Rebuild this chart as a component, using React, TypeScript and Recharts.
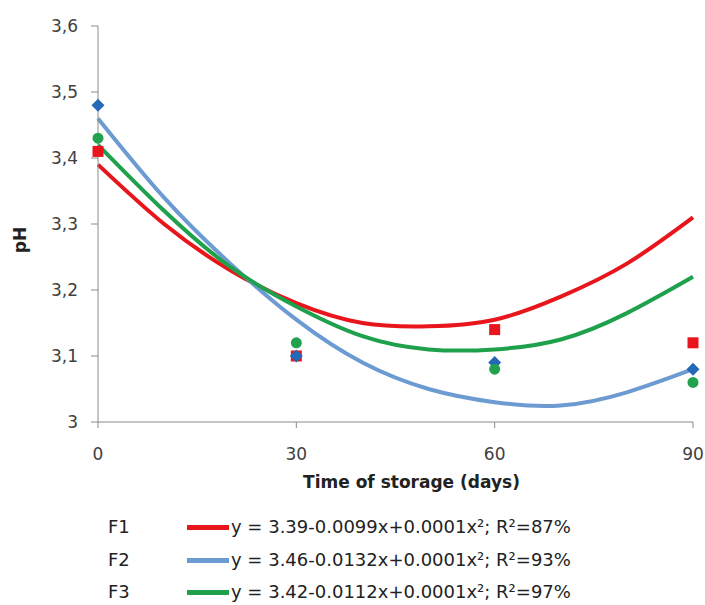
import React from "react";
import { ComposedChart, Line, Scatter, XAxis, YAxis } from "recharts";

// fitted trend curves, every 10 days
const trendDays = [0, 10, 20, 30, 40, 50, 60, 70, 80, 90];
const trendF1 = [3.39, 3.3, 3.23, 3.18, 3.15, 3.145, 3.155, 3.19, 3.24, 3.31];
const trendF2 = [3.46, 3.34, 3.24, 3.155, 3.09, 3.05, 3.03, 3.025, 3.045, 3.08];
const trendF3 = [3.42, 3.32, 3.235, 3.175, 3.13, 3.11, 3.11, 3.125, 3.165, 3.22];

// measured points
const sampleDays = [0, 30, 60, 90];
const obsF1 = [3.41, 3.1, 3.14, 3.12];
const obsF2 = [3.48, 3.1, 3.09, 3.08];
const obsF3 = [3.43, 3.12, 3.08, 3.06];

const xTicks = [0, 30, 60, 90];
const yTicks = [3.0, 3.1, 3.2, 3.3, 3.4, 3.5, 3.6];

const seriesNames = ["F1", "F2", "F3"];
const equations = [
  "y = 3.39-0.0099x+0.0001x²; R²=87%",
  "y = 3.46-0.0132x+0.0001x²; R²=93%",
  "y = 3.42-0.0112x+0.0001x²; R²=97%",
];

const LINE_COLORS = ["#E8161C", "#6C9BD2", "#1FA04C"];
const MARK_COLORS = ["#E8161C", "#2468B8", "#22A24E"];
const AXIS = "#8a8a8a";
const TEXT = "#404040";
const FONT = "'DejaVu Sans', 'Open Sans', sans-serif";

const zip = (xs: number[], ys: number[]) => xs.map((x, i) => ({ x, y: ys[i] }));

const trends = [trendF1, trendF2, trendF3].map((t) => zip(trendDays, t));
const observed = [obsF1, obsF2, obsF3].map((o) => zip(sampleDays, o));

const fmt = (v: number) => String(v).replace(".", ",");

function SquareMark(props: any) {
  const { cx, cy } = props;
  return <rect x={cx - 5.5} y={cy - 5.5} width={11} height={11} fill={MARK_COLORS[0]} />;
}

function DiamondMark(props: any) {
  const { cx, cy } = props;
  const r = 6.5;
  return (
    <polygon
      points={`${cx},${cy - r} ${cx + r},${cy} ${cx},${cy + r} ${cx - r},${cy}`}
      fill={MARK_COLORS[1]}
    />
  );
}

function CircleMark(props: any) {
  const { cx, cy } = props;
  return <circle cx={cx} cy={cy} r={5.5} fill={MARK_COLORS[2]} />;
}

const markShapes = [SquareMark, DiamondMark, CircleMark];
const rowCenters = [527, 560, 592];

export default function App() {
  return (
    <div
      style={{
        position: "absolute",
        left: 0,
        top: 0,
        width: 705,
        height: 605,
        background: "#fff",
        fontFamily: FONT,
        overflow: "hidden",
      }}
    >
      <ComposedChart width={705} height={500} margin={{ top: 26, right: 12, left: 0, bottom: 0 }}>
        <XAxis
          type="number"
          dataKey="x"
          domain={[0, 90]}
          ticks={xTicks}
          allowDuplicatedCategory={false}
          height={78}
          stroke={AXIS}
          tickSize={6}
          tickMargin={20}
          tick={{ fill: TEXT, fontSize: 17, fontFamily: FONT }}
          label={{
            value: "Time of storage (days)",
            position: "insideBottom",
            offset: 12,
            dx: 16,
            style: { fill: "#222", fontSize: 17, fontWeight: 700, fontFamily: FONT },
          }}
        />
        <YAxis
          type="number"
          dataKey="y"
          domain={[3, 3.6]}
          ticks={yTicks}
          width={98}
          stroke={AXIS}
          tickSize={7}
          tickMargin={13}
          tickFormatter={fmt}
          tick={{ fill: TEXT, fontSize: 17, fontFamily: FONT }}
          label={{
            value: "pH",
            angle: -90,
            position: "insideLeft",
            offset: 20,
            dy: 16,
            style: { fill: "#222", fontSize: 17, fontWeight: 700, fontFamily: FONT, textAnchor: "middle" },
          }}
        />
        {trends.map((d, i) => (
          <Line
            key={`trend-${i}`}
            data={d}
            dataKey="y"
            type="natural"
            stroke={LINE_COLORS[i]}
            strokeWidth={4}
            dot={false}
            activeDot={false}
            isAnimationActive={false}
          />
        ))}
        {observed.map((d, i) => (
          <Scatter
            key={`obs-${i}`}
            data={d}
            dataKey="y"
            shape={markShapes[i]}
            isAnimationActive={false}
          />
        ))}
      </ComposedChart>

      {seriesNames.map((name, i) => (
        <div
          key={name}
          style={{
            position: "absolute",
            top: rowCenters[i] - 10,
            left: 0,
            height: 20,
            lineHeight: "20px",
            fontSize: 18,
            color: "#222",
            whiteSpace: "nowrap",
          }}
        >
          <span style={{ position: "absolute", left: 108 }}>{name}</span>
          <span
            style={{
              position: "absolute",
              left: 187,
              top: 8,
              width: 42,
              height: 5,
              background: LINE_COLORS[i],
            }}
          />
          <span style={{ position: "absolute", left: 231 }}>{equations[i]}</span>
        </div>
      ))}
    </div>
  );
}
